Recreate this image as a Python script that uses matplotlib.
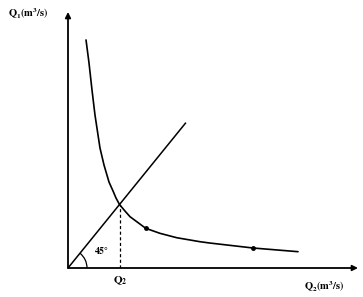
import matplotlib
matplotlib.use("Agg")
import matplotlib.pyplot as plt
from matplotlib.patches import Arc

plt.rcParams['mathtext.fontset'] = 'stix'
plt.rcParams['font.family'] = ['Liberation Serif', 'DejaVu Serif']

# Curve (Q2, Q1)
curve_x = [0.350, 0.408, 0.466, 0.524, 0.621, 0.699, 0.796, 0.880, 0.932, 1.0,
           1.097, 1.204, 1.509, 1.786, 2.111, 2.563, 2.757, 3.592, 4.466]
curve_y = [3.591, 3.228, 2.803, 2.409, 1.890, 1.622, 1.354, 1.202, 1.102, 1.0,
           0.906, 0.808, 0.625, 0.546, 0.477, 0.414, 0.393, 0.315, 0.257]
# 45 degree line
line_x = [0.0, 2.28]
line_y = [0.0, 2.28]
# intersection
q2 = 1.0
q1 = 1.0
# marked points on curve
dots_x = [1.509, 3.592]
dots_y = [0.625, 0.315]

fig = plt.figure(figsize=(3.63, 2.97), dpi=100)
xs, ys = 51.5, 63.5
ax = fig.add_axes([68/363, (297-268)/297, 290/363, 256/297])
ax.set_xlim(0, 290/xs)
ax.set_ylim(0, 256/ys)
for s in ax.spines.values():
    s.set_visible(False)
ax.set_xticks([])
ax.set_yticks([])
ax.patch.set_alpha(0)

# axes with arrows
ax.annotate('', xy=(1.0, 0), xytext=(0, 0), xycoords='axes fraction',
            arrowprops=dict(arrowstyle='-|>', color='black', lw=1.3,
                            mutation_scale=8, shrinkA=0, shrinkB=0))
ax.annotate('', xy=(0, 1.0), xytext=(0, 0), xycoords='axes fraction',
            arrowprops=dict(arrowstyle='-|>', color='black', lw=1.3,
                            mutation_scale=8, shrinkA=0, shrinkB=0))

ax.plot(curve_x, curve_y, color='black', lw=1.2, solid_capstyle='round',
        solid_joinstyle='round')
ax.plot(line_x, line_y, color='black', lw=1.1)
ax.plot([q2, q2], [0, q1], color='black', lw=0.9, linestyle=(0, (2.5, 2)))
ax.plot(dots_x, dots_y, 'o', color='black', markersize=2.5)

arc = Arc((0, 0), 2*19/xs, 2*19/ys, theta1=0, theta2=45, color='black', lw=0.9)
ax.add_patch(arc)
ax.text(34/xs, 17/ys, r'$\mathbf{45°}$', fontsize=7, ha='center', va='center')

fig.text(8/363, 1 - 14/297, r'$\mathbf{Q_1(m^3/s)}$', fontsize=7.5, ha='left', va='center')
fig.text(324/363, 1 - 287/297, r'$\mathbf{Q_2(m^3/s)}$', fontsize=7.5, ha='center', va='center')
fig.text(120/363, 1 - 281/297, r'$\mathbf{Q_2}$', fontsize=8, ha='center', va='center')

fig.savefig('out.png', dpi=100)
